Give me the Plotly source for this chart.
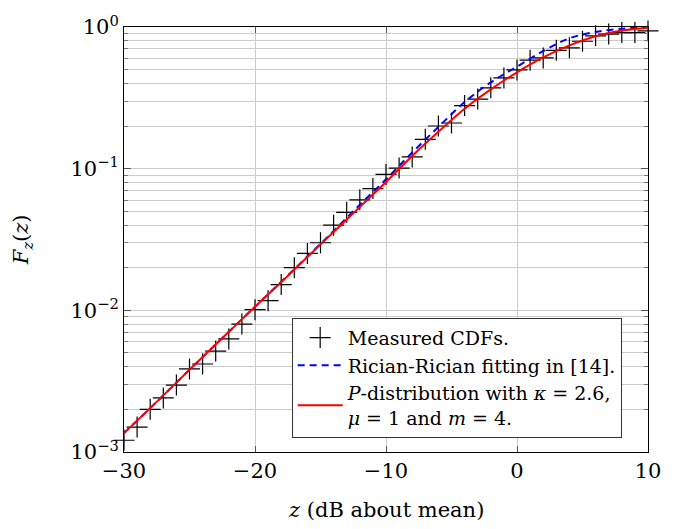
import plotly.graph_objects as go

# Measured CDF points (z in dB about mean)
meas_z = list(range(-30, 11))
meas_F = [0.00121, 0.00150, 0.00200, 0.00241, 0.00297, 0.00386, 0.00418, 0.00516,
          0.00628, 0.00800, 0.0101, 0.0117, 0.0152, 0.0200, 0.0252, 0.0300,
          0.0399, 0.0492, 0.0603, 0.0724, 0.0910, 0.101, 0.121, 0.161,
          0.200, 0.210, 0.279, 0.310, 0.372, 0.437, 0.498, 0.583,
          0.605, 0.684, 0.713, 0.793, 0.867, 0.891, 0.914, 0.914, 0.938]

# Curves, read at every 2 dB
curve_z = list(range(-30, 11, 2))
rician_F = [0.00136, 0.00204, 0.00309, 0.00468, 0.00705, 0.0106, 0.0159, 0.0240,
            0.0363, 0.0556, 0.0841, 0.130, 0.197, 0.295, 0.407, 0.525,
            0.676, 0.832, 0.923, 0.973, 0.995]
pdist_F = [0.00136, 0.00204, 0.00309, 0.00468, 0.00705, 0.0106, 0.0158, 0.0238,
           0.0357, 0.0537, 0.0805, 0.123, 0.182, 0.265, 0.363, 0.479,
           0.610, 0.741, 0.861, 0.944, 0.989]

ytick_vals = [0.001, 0.01, 0.1, 1]
ytick_text = ["10<sup>−3</sup>", "10<sup>−2</sup>", "10<sup>−1</sup>", "10<sup>0</sup>"]
xtick_vals = [-30, -20, -10, 0, 10]
xtick_text = ["−30", "−20", "−10", "0", "10"]
yminor_vals = [m * d for d in (0.001, 0.01, 0.1) for m in range(2, 10)]

FONT = "DejaVu Serif"

fig = go.Figure()
fig.add_trace(go.Scatter(
    x=meas_z, y=meas_F, mode="markers", name="Measured CDFs.",
    marker=dict(symbol="cross-thin", size=15, color="black",
                line=dict(color="black", width=1.2)),
    cliponaxis=False))
fig.add_trace(go.Scatter(
    x=curve_z, y=rician_F, mode="lines", name="Rician-Rician fitting in [14].",
    line=dict(color="#0000ff", width=2, dash="7px,5px", shape="spline")))
fig.add_trace(go.Scatter(
    x=curve_z, y=pdist_F, mode="lines",
    name="<i>P</i>-distribution with <i>κ</i> = 2.6,<br><i>μ</i> = 1 and <i>m</i> = 4.",
    line=dict(color="#ff0000", width=2, shape="spline")))

fig.update_layout(
    width=685, height=529,
    margin=dict(l=124, r=37, t=16, b=77),
    paper_bgcolor="white", plot_bgcolor="white",
    font=dict(family=FONT, size=21, color="black"),
    showlegend=True,
    legend=dict(x=0.32, y=0.316, xanchor="left", yanchor="top",
                bgcolor="white", bordercolor="#333333", borderwidth=1,
                font=dict(family=FONT, size=19), tracegroupgap=0,
                itemwidth=45),
    annotations=[
        dict(text="<i>z</i> (dB about mean)", xref="paper", yref="paper",
             x=0.5, y=-0.136, xanchor="center", yanchor="middle",
             showarrow=False, font=dict(family=FONT, size=21)),
        dict(text="<i>F</i><sub><i>z</i></sub>(<i>z</i>)", xref="paper", yref="paper",
             x=-0.195, y=0.5, xanchor="center", yanchor="middle", textangle=-90,
             showarrow=False, font=dict(family=FONT, size=21)),
    ],
)
fig.update_xaxes(
    range=[-30, 10], tickmode="array", tickvals=xtick_vals, ticktext=xtick_text,
    showline=True, linecolor="black", linewidth=1, mirror="allticks",
    ticks="inside", ticklen=6, tickcolor="#555555",
    showgrid=True, gridcolor="#cccccc", gridwidth=1, zeroline=False,
    tickfont=dict(size=21),
)
fig.update_yaxes(
    type="log", range=[-3, 0], tickmode="array", tickvals=ytick_vals, ticktext=ytick_text,
    showline=True, linecolor="black", linewidth=1, mirror="allticks",
    ticks="inside", ticklen=7, tickcolor="#555555",
    showgrid=True, gridcolor="#cccccc", gridwidth=1, zeroline=False,
    minor=dict(tickmode="array", tickvals=yminor_vals, ticks="inside", ticklen=4,
               tickcolor="#777777", showgrid=True, gridcolor="#cccccc", gridwidth=1),
    tickfont=dict(size=21),
)

fig.write_html("out.html")
